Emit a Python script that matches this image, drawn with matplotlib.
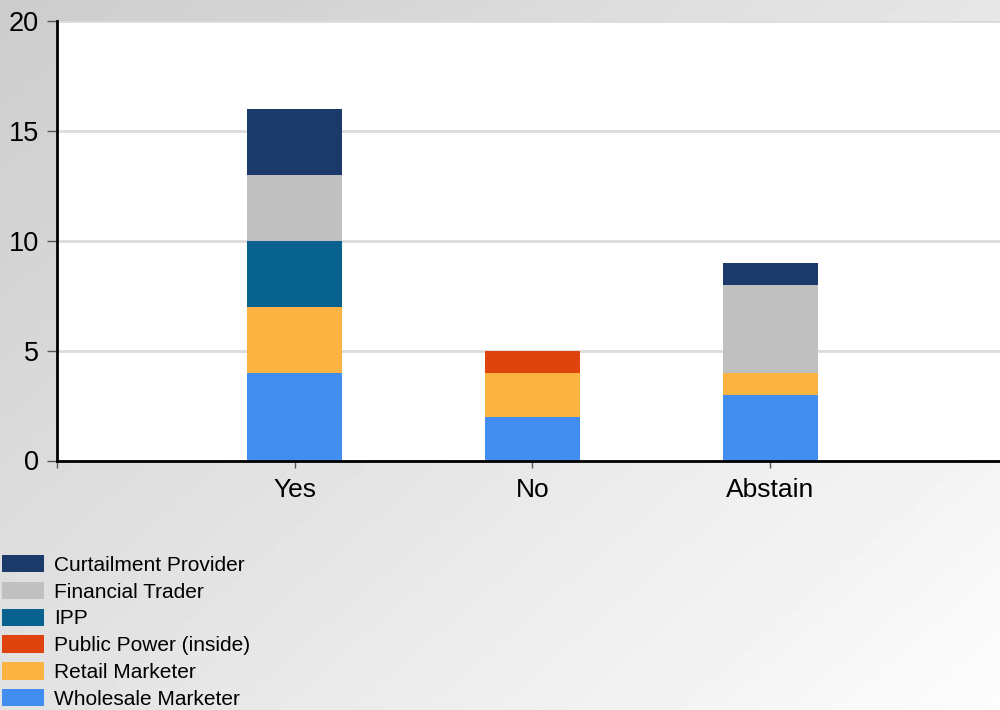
import numpy as np
import matplotlib
matplotlib.use("Agg")
import matplotlib.pyplot as plt
from matplotlib.patches import Patch

categories = ["Yes", "No", "Abstain"]
# stacking order bottom -> top
series_names = ["Wholesale Marketer", "Retail Marketer", "Public Power (inside)",
                "IPP", "Financial Trader", "Curtailment Provider"]
wholesale = [4, 2, 3]
retail = [3, 2, 1]
public_power = [0, 1, 0]
ipp = [3, 0, 0]
financial = [3, 0, 4]
curtailment = [3, 0, 1]
series_values = [wholesale, retail, public_power, ipp, financial, curtailment]
colors = ["#418ef0", "#fbb441", "#e0440e", "#08628f", "#c0c0c0", "#1b3a6a"]
y_ticks = [0, 5, 10, 15, 20]

plt.rcParams['font.family'] = ['Liberation Sans', 'DejaVu Sans']

fig = plt.figure(figsize=(10, 7.1), dpi=100)

# background gradient
bg = fig.add_axes([0, 0, 1, 1], zorder=-10)
gx, gy = np.meshgrid(np.linspace(0, 1, 200), np.linspace(0, 1, 200))
t = (gx * 0.55 + gy * 0.45)
grad = 0.80 + 0.19 * t
bg.imshow(grad, cmap="gray", vmin=0, vmax=1, extent=[0, 1, 0, 1],
          origin="upper", aspect="auto")
bg.axis("off")

ax = fig.add_axes([0.057, 1 - 460.5 / 710, 1 - 0.057, (460.5 - 21.3) / 710])
ax.set_facecolor("white")

x = np.arange(len(categories))
bottom = np.zeros(len(categories))
for name, vals, c in zip(series_names, series_values, colors):
    v = np.array(vals, dtype=float)
    ax.bar(x, v, width=0.4, bottom=bottom, color=c, label=name, zorder=3)
    bottom += v

ax.set_xlim(-1.0, 2.967)
ax.set_ylim(0, 20)
ax.set_yticks(y_ticks)
ax.set_yticklabels([str(v) for v in y_ticks], fontsize=19.5)
ax.set_xticks([-1, 0, 1, 2])
ax.set_xticklabels([""] + categories, fontsize=19)
ax.tick_params(axis="y", length=7.2, width=1, color="#555555", pad=5.7)
ax.tick_params(axis="x", length=5, width=1, color="#555555", pad=7.5)
ax.grid(axis="y", color="#dcdcdc", linewidth=2, zorder=0)
ax.set_axisbelow(True)
for s in ["top", "right"]:
    ax.spines[s].set_visible(False)
ax.spines["left"].set_linewidth(2)
ax.spines["bottom"].set_linewidth(2)
ax.spines["left"].set_zorder(5)
ax.spines["bottom"].set_zorder(5)

handles = [Patch(facecolor=c, edgecolor="none") for c in colors[::-1]]
labels = series_names[::-1]
fig.legend(handles, labels, loc="upper left", bbox_to_anchor=(0.002, 1 - 555 / 710),
           frameon=False, fontsize=15, handlelength=2.0, handleheight=0.9,
           handletextpad=0.48, labelspacing=0.335, borderaxespad=0, borderpad=0)

fig.savefig("out.png", dpi=100)
